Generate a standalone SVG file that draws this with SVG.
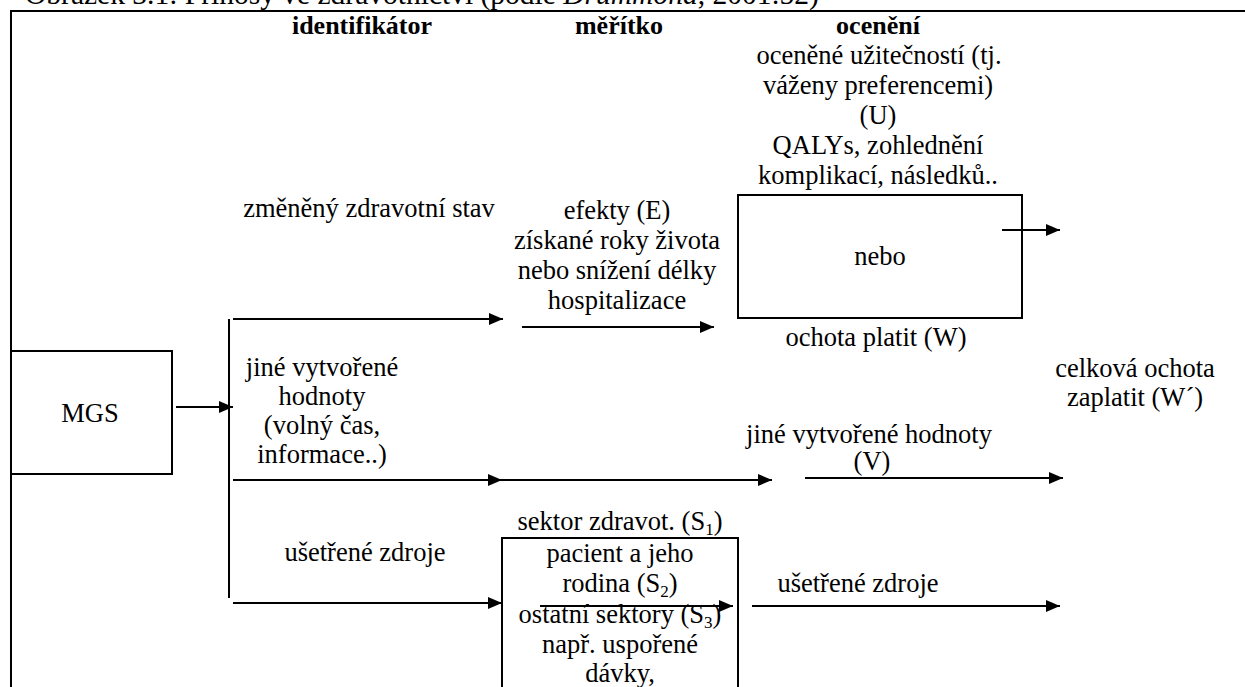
<svg xmlns="http://www.w3.org/2000/svg" width="1245" height="687" viewBox="0 0 1245 687">
<style>
text{font-family:"Liberation Serif",serif;font-size:26.5px;fill:#000}
.m{text-anchor:middle}
.b{font-weight:bold;font-size:26px}
.cap{font-size:29.5px}
.ln{stroke:#000;stroke-width:2;fill:none}
.bx{stroke:#000;stroke-width:2;fill:#fff}
.ar{stroke:#000;stroke-width:2;fill:none;marker-end:url(#ah)}
tspan.sub{font-size:17px}
</style>
<defs>
<marker id="ah" markerUnits="userSpaceOnUse" markerWidth="14" markerHeight="12" refX="14" refY="6" orient="auto">
<path d="M0,0 L14,6 L0,12 z" fill="#000"/>
</marker>
</defs>
<rect width="1245" height="687" fill="#fff"/>
<g id="caption">
<text class="cap" x="25" y="4">Obrázek 3.1: Přínosy ve zdravotnictví (podle <tspan font-style="italic">Drummond</tspan>, 2001:52)</text>
</g>
<g id="frame">
<path class="ln" d="M10,11 H1245 M11,11 V687"/>
</g>
<g id="headers">
<text class="m b" x="362" y="34">identifikátor</text>
<text class="m b" x="619" y="34">měřítko</text>
<text class="m b" x="878" y="34">ocenění</text>
</g>
<g id="node-mgs">
<rect class="bx" x="11" y="351" width="161" height="123"/>
<text class="m" x="90" y="422">MGS</text>
</g>
<g id="label-zmeneny">
<text class="m" x="369" y="217">změněný zdravotní stav</text>
</g>
<g id="label-efekty">
<text class="m" x="617" y="219">efekty (E)</text>
<text class="m" x="617" y="249">získané roky života</text>
<text class="m" x="617" y="279">nebo snížení délky</text>
<text class="m" x="617" y="309">hospitalizace</text>
</g>
<g id="label-uzitek">
<text class="m" x="879" y="64">oceněné užitečností (tj.</text>
<text class="m" x="878" y="94">váženy preferencemi)</text>
<text class="m" x="878" y="124">(U)</text>
<text class="m" x="878" y="154">QALYs, zohlednění</text>
<text class="m" x="878" y="184">komplikací, následků..</text>
</g>
<g id="node-nebo">
<rect class="bx" x="738" y="195" width="284" height="123"/>
<text class="m" x="880" y="265">nebo</text>
</g>
<g id="label-ochota">
<text class="m" x="876" y="346">ochota platit (W)</text>
</g>
<g id="label-jine">
<text class="m" x="322" y="376">jiné vytvořené</text>
<text class="m" x="322" y="405">hodnoty</text>
<text class="m" x="322" y="434">(volný čas,</text>
<text class="m" x="322" y="463">informace..)</text>
</g>
<g id="label-celkova">
<text class="m" x="1135" y="377">celková ochota</text>
<text class="m" x="1135" y="406">zaplatit (W´)</text>
</g>
<g id="label-jine-v">
<text class="m" x="869" y="443">jiné vytvořené hodnoty</text>
<text class="m" x="872" y="470">(V)</text>
</g>
<g id="label-usetrene">
<text class="m" x="365" y="561">ušetřené zdroje</text>
</g>
<g id="label-sektor">
<text class="m" x="620" y="530">sektor zdravot. (S<tspan class="sub" dy="5">1</tspan><tspan dy="-5">)</tspan></text>
</g>
<g id="node-sektory">
<rect class="bx" x="502" y="538" width="236" height="170"/>
<text class="m" x="620" y="562">pacient a jeho</text>
<text class="m" x="620" y="592">rodina (S<tspan class="sub" dy="5">2</tspan><tspan dy="-5">)</tspan></text>
<text class="m" x="620" y="623">ostatní sektory (S<tspan class="sub" dy="5">3</tspan><tspan dy="-5">)</tspan></text>
<text class="m" x="620" y="653">např. uspořené</text>
<text class="m" x="620" y="682">dávky,</text>
</g>
<g id="label-usetrene2">
<text class="m" x="858" y="592">ušetřené zdroje</text>
</g>
<g id="connectors">
<path class="ln" d="M229,319 V598"/>
<path class="ar" d="M176,407 H233"/>
<path class="ar" d="M233,319 H503"/>
<path class="ar" d="M522,327 H714"/>
<path class="ar" d="M1002,230 H1060"/>
<path class="ar" d="M233,480 H502"/>
<path class="ar" d="M502,480 H772"/>
<path class="ar" d="M805,478 H1063"/>
<path class="ar" d="M233,603 H502"/>
<path class="ar" d="M540,606 H733"/>
<path class="ar" d="M752,606 H1060"/>
</g>
</svg>
